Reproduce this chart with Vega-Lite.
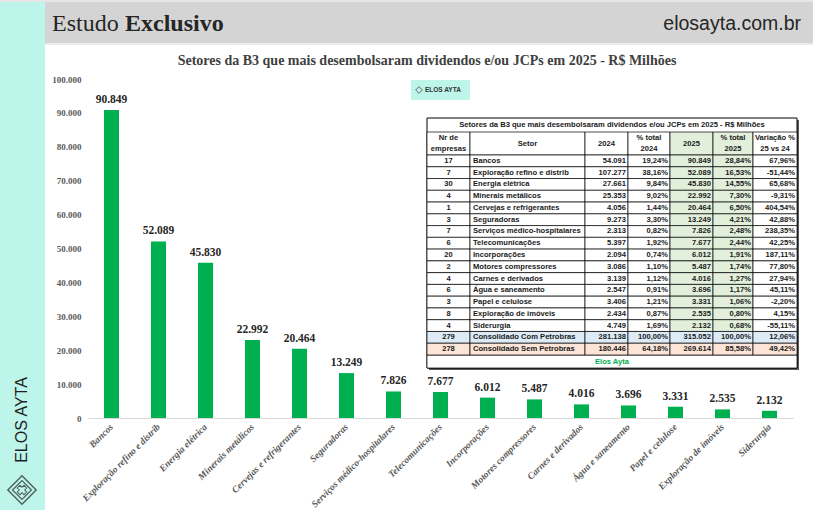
{
  "$schema": "https://vega.github.io/schema/vega-lite/v6.json",
  "width": 813,
  "height": 510,
  "autosize": {"type": "none"},
  "padding": 0,
  "background": "#ffffff",
  "config": {
    "view": {"stroke": null},
    "locale": {"number": {"decimal": ",", "thousands": ".", "grouping": [3], "currency": ["R$ ", ""], "minus": "-"}},
    "text": {"font": "Liberation Sans"}
  },
  "datasets": {
    "setores": [
      {"nr": 17, "setor": "Bancos", "v2024": 54091, "p2024": 0.1924, "v2025": 90849, "p2025": 0.2884, "var": 0.6796, "kind": "setor"},
      {"nr": 7, "setor": "Exploração refino e distrib", "v2024": 107277, "p2024": 0.3816, "v2025": 52089, "p2025": 0.1653, "var": -0.5144, "kind": "setor"},
      {"nr": 30, "setor": "Energia elétrica", "v2024": 27661, "p2024": 0.0984, "v2025": 45830, "p2025": 0.1455, "var": 0.6568, "kind": "setor"},
      {"nr": 4, "setor": "Minerais metálicos", "v2024": 25353, "p2024": 0.0902, "v2025": 22992, "p2025": 0.073, "var": -0.0931, "kind": "setor"},
      {"nr": 1, "setor": "Cervejas e refrigerantes", "v2024": 4056, "p2024": 0.0144, "v2025": 20464, "p2025": 0.065, "var": 4.0454, "kind": "setor"},
      {"nr": 3, "setor": "Seguradoras", "v2024": 9273, "p2024": 0.033, "v2025": 13249, "p2025": 0.0421, "var": 0.4288, "kind": "setor"},
      {"nr": 7, "setor": "Serviços médico-hospitalares", "v2024": 2313, "p2024": 0.0082, "v2025": 7826, "p2025": 0.0248, "var": 2.3835, "kind": "setor"},
      {"nr": 6, "setor": "Telecomunicações", "v2024": 5397, "p2024": 0.0192, "v2025": 7677, "p2025": 0.0244, "var": 0.4225, "kind": "setor"},
      {"nr": 20, "setor": "Incorporações", "v2024": 2094, "p2024": 0.0074, "v2025": 6012, "p2025": 0.0191, "var": 1.8711, "kind": "setor"},
      {"nr": 2, "setor": "Motores compressores", "v2024": 3086, "p2024": 0.011, "v2025": 5487, "p2025": 0.0174, "var": 0.778, "kind": "setor"},
      {"nr": 4, "setor": "Carnes e derivados", "v2024": 3139, "p2024": 0.0112, "v2025": 4016, "p2025": 0.0127, "var": 0.2794, "kind": "setor"},
      {"nr": 6, "setor": "Água e saneamento", "v2024": 2547, "p2024": 0.0091, "v2025": 3696, "p2025": 0.0117, "var": 0.4511, "kind": "setor"},
      {"nr": 3, "setor": "Papel e celulose", "v2024": 3406, "p2024": 0.0121, "v2025": 3331, "p2025": 0.0106, "var": -0.022, "kind": "setor"},
      {"nr": 8, "setor": "Exploração de imóveis", "v2024": 2434, "p2024": 0.0087, "v2025": 2535, "p2025": 0.008, "var": 0.0415, "kind": "setor"},
      {"nr": 4, "setor": "Siderurgia", "v2024": 4749, "p2024": 0.0169, "v2025": 2132, "p2025": 0.0068, "var": -0.5511, "kind": "setor"},
      {"nr": 279, "setor": "Consolidado Com Petrobras", "v2024": 281138, "p2024": 1.0, "v2025": 315052, "p2025": 1.0, "var": 0.1206, "kind": "com"},
      {"nr": 278, "setor": "Consolidado Sem Petrobras", "v2024": 180446, "p2024": 0.6418, "v2025": 269614, "p2025": 0.8558, "var": 0.4942, "kind": "sem"}
    ],
    "textos": [
      {"estudo": "Estudo", "exclusivo": "Exclusivo", "site": "elosayta.com.br", "titulo": "Setores da B3 que mais desembolsaram dividendos e/ou JCPs em 2025 - R$ Milhões", "marca": "ELOS AYTA", "rodape": "Elos Ayta"}
    ]
  },
  "data": {"name": "setores"},
  "resolve": {"scale": {"x": "independent", "y": "independent"}, "axis": {"x": "independent", "y": "independent"}},
  "layer": [
    {
      "data": {"name": "textos"},
      "layer": [
        {"mark": {"type": "rect", "fill": "#e6e6e6"}, "encoding": {"x": {"value": 0}, "x2": {"value": 813}, "y": {"value": 0}, "y2": {"value": 2}}},
        {"mark": {"type": "rect", "fill": "#bdf5ea"}, "encoding": {"x": {"value": 0}, "x2": {"value": 45}, "y": {"value": 2}, "y2": {"value": 510}}},
        {"mark": {"type": "rect", "fill": "#d4d4d4"}, "encoding": {"x": {"value": 45}, "x2": {"value": 813}, "y": {"value": 2}, "y2": {"value": 43}}},
        {"mark": {"type": "rect", "fill": "#ececec"}, "encoding": {"x": {"value": 45}, "x2": {"value": 813}, "y": {"value": 43}, "y2": {"value": 45}}},
        {"mark": {"type": "text", "font": "Liberation Serif", "fontSize": 24, "align": "left", "baseline": "alphabetic", "color": "#262626"}, "encoding": {"x": {"value": 52}, "y": {"value": 31}, "text": {"field": "estudo"}}},
        {"mark": {"type": "text", "font": "Liberation Serif", "fontSize": 24, "fontWeight": "bold", "align": "left", "baseline": "alphabetic", "color": "#262626"}, "encoding": {"x": {"value": 125}, "y": {"value": 31}, "text": {"field": "exclusivo"}}},
        {"mark": {"type": "text", "font": "Liberation Sans", "fontSize": 19.5, "align": "right", "baseline": "alphabetic", "color": "#262626"}, "encoding": {"x": {"value": 801}, "y": {"value": 30}, "text": {"field": "site"}}},
        {"mark": {"type": "text", "font": "Liberation Serif", "fontSize": 14, "fontWeight": "bold", "align": "center", "baseline": "alphabetic", "color": "#404040"}, "encoding": {"x": {"value": 427}, "y": {"value": 65}, "text": {"field": "titulo"}}},
        {"mark": {"type": "text", "font": "Liberation Sans", "fontSize": 16, "angle": 270, "align": "center", "baseline": "middle", "color": "#1f1f1f"}, "encoding": {"x": {"value": 22}, "y": {"value": 420}, "text": {"field": "marca"}}},
        {"mark": {"type": "point", "shape": "diamond", "filled": false, "stroke": "#1f1f1f", "strokeWidth": 1.4, "size": 800}, "encoding": {"x": {"value": 22}, "y": {"value": 490}}},
        {"mark": {"type": "point", "shape": "diamond", "filled": false, "stroke": "#1f1f1f", "strokeWidth": 1.2, "size": 360}, "encoding": {"x": {"value": 22}, "y": {"value": 490}}},
        {"mark": {"type": "point", "shape": "cross", "filled": false, "stroke": "#1f1f1f", "strokeWidth": 1, "size": 90, "angle": 45}, "encoding": {"x": {"value": 22}, "y": {"value": 490}}},
        {"mark": {"type": "rect", "fill": "#bdf5ea"}, "encoding": {"x": {"value": 411}, "x2": {"value": 470}, "y": {"value": 80}, "y2": {"value": 100}}},
        {"mark": {"type": "point", "shape": "diamond", "filled": false, "stroke": "#333333", "strokeWidth": 1, "size": 45}, "encoding": {"x": {"value": 419}, "y": {"value": 90}}},
        {"mark": {"type": "text", "font": "Liberation Sans", "fontSize": 6.5, "fontWeight": "bold", "align": "left", "baseline": "middle", "color": "#333333"}, "encoding": {"x": {"value": 425}, "y": {"value": 90}, "text": {"field": "marca"}}}
      ]
    },
    {
      "transform": [{"filter": "datum.kind == 'setor'"}],
      "encoding": {
        "x": {
          "field": "setor", "type": "nominal", "sort": null,
          "scale": {"range": [88, 793], "paddingInner": 0.68, "paddingOuter": 0.34},
          "axis": {"title": null, "offset": -92, "domain": true, "domainColor": "#d9d9d9", "ticks": false, "labelAngle": -45, "labelAlign": "right", "labelBaseline": "middle", "labelPadding": 7, "labelFont": "Liberation Serif", "labelFontStyle": "italic", "labelFontWeight": "bold", "labelFontSize": 9.5, "labelColor": "#595959", "labelOverlap": false, "labelLimit": 0}
        }
      },
      "layer": [
        {
          "mark": {"type": "bar", "color": "#00b050"},
          "encoding": {
            "y": {
              "field": "v2025", "type": "quantitative",
              "scale": {"domain": [0, 100000], "range": [418, 79], "nice": false, "zero": true},
              "axis": {"title": null, "offset": -86, "values": [0, 10000, 20000, 30000, 40000, 50000, 60000, 70000, 80000, 90000, 100000], "format": ",d", "domain": false, "ticks": false, "grid": false, "labelPadding": 5, "labelFont": "Liberation Serif", "labelFontWeight": "bold", "labelFontSize": 9, "labelColor": "#595959"}
            }
          }
        },
        {
          "mark": {"type": "text", "font": "Liberation Serif", "fontWeight": "bold", "fontSize": 11.5, "baseline": "alphabetic", "dy": -7, "color": "#262626"},
          "encoding": {
            "y": {"field": "v2025", "type": "quantitative"},
            "text": {"field": "v2025", "type": "quantitative", "format": ",d"}
          }
        }
      ]
    },
    {
      "data": {"name": "textos"},
      "layer": [
        {"mark": {"type": "rect", "fill": "#595959"}, "encoding": {"x": {"value": 429}, "x2": {"value": 799}, "y": {"value": 120}, "y2": {"value": 370}}},
        {"mark": {"type": "rect", "fill": "#ffffff", "stroke": "#000000", "strokeWidth": 1}, "encoding": {"x": {"value": 427}, "x2": {"value": 797}, "y": {"value": 118}, "y2": {"value": 368}}},
        {"mark": {"type": "text", "fontSize": 7.6, "fontWeight": "bold", "align": "center", "baseline": "middle", "color": "#1a1a1a"}, "encoding": {"x": {"value": 612}, "y": {"value": 125}, "text": {"field": "titulo"}}},
        {"mark": {"type": "rect", "fill": "#ffffff", "stroke": "#000000", "strokeWidth": 0.7}, "encoding": {"x": {"value": 427}, "x2": {"value": 470}, "y": {"value": 132}, "y2": {"value": 155}}},
        {"mark": {"type": "rect", "fill": "#ffffff", "stroke": "#000000", "strokeWidth": 0.7}, "encoding": {"x": {"value": 470}, "x2": {"value": 585}, "y": {"value": 132}, "y2": {"value": 155}}},
        {"mark": {"type": "rect", "fill": "#ffffff", "stroke": "#000000", "strokeWidth": 0.7}, "encoding": {"x": {"value": 585}, "x2": {"value": 628}, "y": {"value": 132}, "y2": {"value": 155}}},
        {"mark": {"type": "rect", "fill": "#ffffff", "stroke": "#000000", "strokeWidth": 0.7}, "encoding": {"x": {"value": 628}, "x2": {"value": 670}, "y": {"value": 132}, "y2": {"value": 155}}},
        {"mark": {"type": "rect", "fill": "#e2efda", "stroke": "#000000", "strokeWidth": 0.7}, "encoding": {"x": {"value": 670}, "x2": {"value": 713}, "y": {"value": 132}, "y2": {"value": 155}}},
        {"mark": {"type": "rect", "fill": "#e2efda", "stroke": "#000000", "strokeWidth": 0.7}, "encoding": {"x": {"value": 713}, "x2": {"value": 753}, "y": {"value": 132}, "y2": {"value": 155}}},
        {"mark": {"type": "rect", "fill": "#ffffff", "stroke": "#000000", "strokeWidth": 0.7}, "encoding": {"x": {"value": 753}, "x2": {"value": 797}, "y": {"value": 132}, "y2": {"value": 155}}},
        {"mark": {"type": "text", "fontSize": 7.6, "fontWeight": "bold", "align": "center", "baseline": "middle", "lineHeight": 11, "color": "#1a1a1a"}, "encoding": {"x": {"value": 448.5}, "y": {"value": 138}, "text": {"value": ["Nr de", "empresas"]}}},
        {"mark": {"type": "text", "fontSize": 7.6, "fontWeight": "bold", "align": "center", "baseline": "middle", "color": "#1a1a1a"}, "encoding": {"x": {"value": 527.5}, "y": {"value": 143.5}, "text": {"value": "Setor"}}},
        {"mark": {"type": "text", "fontSize": 7.6, "fontWeight": "bold", "align": "center", "baseline": "middle", "color": "#1a1a1a"}, "encoding": {"x": {"value": 606.5}, "y": {"value": 143.5}, "text": {"value": "2024"}}},
        {"mark": {"type": "text", "fontSize": 7.6, "fontWeight": "bold", "align": "center", "baseline": "middle", "lineHeight": 11, "color": "#1a1a1a"}, "encoding": {"x": {"value": 649}, "y": {"value": 138}, "text": {"value": ["% total", "2024"]}}},
        {"mark": {"type": "text", "fontSize": 7.6, "fontWeight": "bold", "align": "center", "baseline": "middle", "color": "#1a1a1a"}, "encoding": {"x": {"value": 691.5}, "y": {"value": 143.5}, "text": {"value": "2025"}}},
        {"mark": {"type": "text", "fontSize": 7.6, "fontWeight": "bold", "align": "center", "baseline": "middle", "lineHeight": 11, "color": "#1a1a1a"}, "encoding": {"x": {"value": 733}, "y": {"value": 138}, "text": {"value": ["% total", "2025"]}}},
        {"mark": {"type": "text", "fontSize": 7.6, "fontWeight": "bold", "align": "center", "baseline": "middle", "lineHeight": 11, "color": "#1a1a1a"}, "encoding": {"x": {"value": 775}, "y": {"value": 138}, "text": {"value": ["Variação %", "25 vs 24"]}}},
        {"mark": {"type": "rect", "fill": "#ffffff", "stroke": "#000000", "strokeWidth": 0.7}, "encoding": {"x": {"value": 427}, "x2": {"value": 797}, "y": {"value": 355}, "y2": {"value": 368}}},
        {"mark": {"type": "text", "fontSize": 7.6, "fontWeight": "bold", "align": "center", "baseline": "middle", "color": "#00b050"}, "encoding": {"x": {"value": 612}, "y": {"value": 361.5}, "text": {"field": "rodape"}}}
      ]
    },
    {
      "encoding": {
        "y": {"field": "setor", "type": "nominal", "sort": null, "scale": {"range": [155, 355], "paddingInner": 0, "paddingOuter": 0}, "axis": null}
      },
      "layer": [
        {"mark": {"type": "rect", "stroke": "#000000", "strokeWidth": 0.7}, "encoding": {"x": {"value": 427}, "x2": {"value": 470}, "fill": {"condition": [{"test": "datum.kind == 'com'", "value": "#ddebf7"}, {"test": "datum.kind == 'sem'", "value": "#fce4d6"}], "value": "#ffffff"}}},
        {"mark": {"type": "rect", "stroke": "#000000", "strokeWidth": 0.7}, "encoding": {"x": {"value": 470}, "x2": {"value": 585}, "fill": {"condition": [{"test": "datum.kind == 'com'", "value": "#ddebf7"}, {"test": "datum.kind == 'sem'", "value": "#fce4d6"}], "value": "#ffffff"}}},
        {"mark": {"type": "rect", "stroke": "#000000", "strokeWidth": 0.7}, "encoding": {"x": {"value": 585}, "x2": {"value": 628}, "fill": {"condition": [{"test": "datum.kind == 'com'", "value": "#ddebf7"}, {"test": "datum.kind == 'sem'", "value": "#fce4d6"}], "value": "#ffffff"}}},
        {"mark": {"type": "rect", "stroke": "#000000", "strokeWidth": 0.7}, "encoding": {"x": {"value": 628}, "x2": {"value": 670}, "fill": {"condition": [{"test": "datum.kind == 'com'", "value": "#ddebf7"}, {"test": "datum.kind == 'sem'", "value": "#fce4d6"}], "value": "#ffffff"}}},
        {"mark": {"type": "rect", "stroke": "#000000", "strokeWidth": 0.7}, "encoding": {"x": {"value": 670}, "x2": {"value": 713}, "fill": {"condition": [{"test": "datum.kind == 'com'", "value": "#ddebf7"}, {"test": "datum.kind == 'sem'", "value": "#fce4d6"}], "value": "#e2efda"}}},
        {"mark": {"type": "rect", "stroke": "#000000", "strokeWidth": 0.7}, "encoding": {"x": {"value": 713}, "x2": {"value": 753}, "fill": {"condition": [{"test": "datum.kind == 'com'", "value": "#ddebf7"}, {"test": "datum.kind == 'sem'", "value": "#fce4d6"}], "value": "#e2efda"}}},
        {"mark": {"type": "rect", "stroke": "#000000", "strokeWidth": 0.7}, "encoding": {"x": {"value": 753}, "x2": {"value": 797}, "fill": {"condition": [{"test": "datum.kind == 'com'", "value": "#ddebf7"}, {"test": "datum.kind == 'sem'", "value": "#fce4d6"}], "value": "#ffffff"}}},
        {"mark": {"type": "text", "fontSize": 7.6, "fontWeight": "bold", "align": "center", "baseline": "middle", "color": "#1a1a1a"}, "encoding": {"x": {"value": 448.5}, "text": {"field": "nr", "type": "quantitative", "format": "d"}}},
        {"mark": {"type": "text", "fontSize": 7.6, "fontWeight": "bold", "align": "left", "baseline": "middle", "color": "#1a1a1a"}, "encoding": {"x": {"value": 473}, "text": {"field": "setor", "type": "nominal"}}},
        {"mark": {"type": "text", "fontSize": 7.6, "fontWeight": "bold", "align": "right", "baseline": "middle", "color": "#1a1a1a"}, "encoding": {"x": {"value": 626}, "text": {"field": "v2024", "type": "quantitative", "format": ",d"}}},
        {"mark": {"type": "text", "fontSize": 7.6, "fontWeight": "bold", "align": "right", "baseline": "middle", "color": "#1a1a1a"}, "encoding": {"x": {"value": 668}, "text": {"field": "p2024", "type": "quantitative", "format": ".2%"}}},
        {"mark": {"type": "text", "fontSize": 7.6, "fontWeight": "bold", "align": "right", "baseline": "middle", "color": "#1a1a1a"}, "encoding": {"x": {"value": 711}, "text": {"field": "v2025", "type": "quantitative", "format": ",d"}}},
        {"mark": {"type": "text", "fontSize": 7.6, "fontWeight": "bold", "align": "right", "baseline": "middle", "color": "#1a1a1a"}, "encoding": {"x": {"value": 751}, "text": {"field": "p2025", "type": "quantitative", "format": ".2%"}}},
        {"mark": {"type": "text", "fontSize": 7.6, "fontWeight": "bold", "align": "right", "baseline": "middle", "color": "#1a1a1a"}, "encoding": {"x": {"value": 795}, "text": {"field": "var", "type": "quantitative", "format": ".2%"}}}
      ]
    }
  ]
}
